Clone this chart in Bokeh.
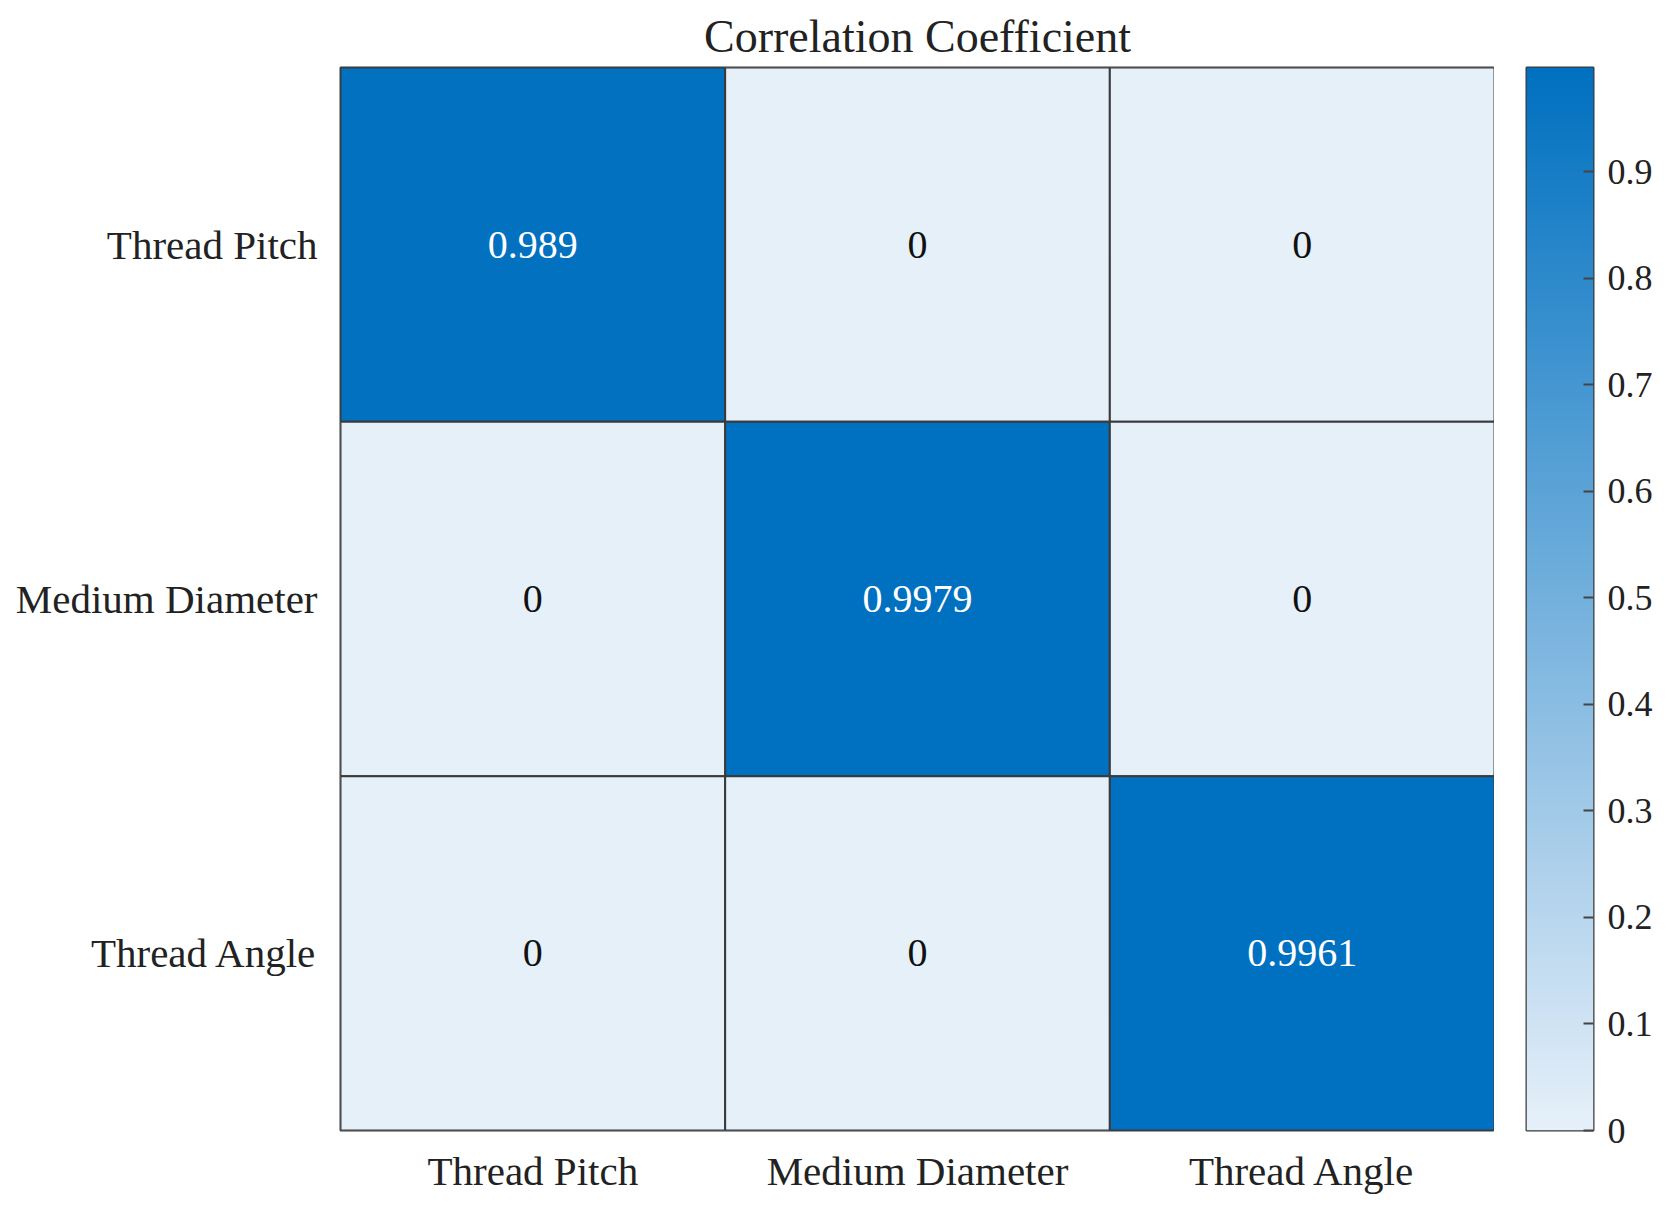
import numpy as np
from bokeh.plotting import figure
from bokeh.layouts import row
from bokeh.models import (ColumnDataSource, FactorRange, LinearColorMapper,
                          FixedTicker, Title, Range1d)
from bokeh.transform import transform
from bokeh.core.properties import value
from bokeh.embed import file_html
from bokeh.resources import INLINE

# ---- data ----
row_names = ["Thread Pitch", "Medium Diameter", "Thread Angle"]
col_names = ["Thread Pitch", "Medium Diameter", "Thread Angle"]
row_thread_pitch = [0.989, 0, 0]
row_medium_diameter = [0, 0.9979, 0]
row_thread_angle = [0, 0, 0.9961]
colorbar_ticks = [0, 0.1, 0.2, 0.3, 0.4, 0.5, 0.6, 0.7, 0.8, 0.9]
title_text = "Correlation Coefficient"

rows = [row_thread_pitch, row_medium_diameter, row_thread_angle]

xs, ys, vals, labels, tcolors = [], [], [], [], []
vmax = max(max(r) for r in rows)
for rname, r in zip(row_names, rows):
    for cname, v in zip(col_names, r):
        xs.append(cname)
        ys.append(rname)
        vals.append(v)
        labels.append(f"{v:g}")
        tcolors.append("white" if v > 0.5 * vmax else "#111111")

src = ColumnDataSource(dict(x=xs, y=ys, v=vals, label=labels, tc=tcolors))

# palette: light blue -> strong blue
lo = (230, 240, 249)
hi = (0, 112, 192)
N = 256
palette = []
for i in range(N):
    t = i / (N - 1)
    c = tuple(round(lo[k] + (hi[k] - lo[k]) * t) for k in range(3))
    palette.append("#%02x%02x%02x" % c)

mapper = LinearColorMapper(palette=palette, low=0, high=vmax)

FONT = "Liberation Serif"
TXT = "#222222"
EDGE = "#3a3a3a"

p = figure(x_range=FactorRange(*col_names), y_range=FactorRange(*reversed(row_names)),
           frame_width=1154, frame_height=1063,
           min_border_left=340, min_border_top=67, min_border_bottom=70, min_border_right=0,
           output_backend="svg", toolbar_location=None, tools="")

p.title = Title(text=title_text, align="center", vertical_align="top",
                text_font=FONT, text_font_size="46px",
                text_font_style="normal", text_color=TXT, standoff=8)

p.rect(x="x", y="y", width=1, height=1, source=src,
       fill_color=transform("v", mapper), line_color=EDGE, line_width=2)
p.text(x="x", y="y", text="label", source=src, text_color="tc",
       text_align="center", text_baseline="middle",
       text_font=value(FONT), text_font_size="40px")

p.outline_line_color = EDGE
p.outline_line_width = 2
p.grid.visible = False
for ax in (p.xaxis, p.yaxis):
    ax.axis_line_color = None
    ax.major_tick_line_color = None
    ax.minor_tick_line_color = None
    ax.major_label_text_font = FONT
    ax.major_label_text_font_size = "41px"
    ax.major_label_text_color = TXT
p.yaxis.major_label_standoff = 17
p.xaxis.major_label_standoff = 11

# ---- colour bar as its own thin figure ----
grad = np.linspace(0, vmax, 512).reshape(-1, 1)
cb = figure(x_range=Range1d(0, 1), y_range=Range1d(0, vmax),
            frame_width=67, frame_height=1063,
            min_border_left=32, min_border_top=67, min_border_bottom=70, min_border_right=10,
            y_axis_location="right", x_axis_location=None,
            output_backend="svg", toolbar_location=None, tools="")
cb.image(image=[grad], x=0, y=0, dw=1, dh=vmax, color_mapper=mapper)
cb.grid.visible = False
cb.outline_line_color = EDGE
cb.outline_line_width = 2
cb.yaxis.ticker = FixedTicker(ticks=colorbar_ticks)
cb.yaxis.major_label_overrides = {0: "0"}
cb.yaxis.axis_line_color = None
cb.yaxis.major_tick_in = 10
cb.yaxis.major_tick_out = 0
cb.yaxis.major_tick_line_color = "#444444"
cb.yaxis.major_tick_line_width = 2
cb.yaxis.minor_tick_line_color = None
cb.yaxis.major_label_standoff = 14
cb.yaxis.major_label_text_font = FONT
cb.yaxis.major_label_text_font_size = "36px"
cb.yaxis.major_label_text_color = TXT
cb.title = Title(text=" ", text_font_size="46px", standoff=8)

layout = row(p, cb)
open("out.html", "w").write(file_html(layout, INLINE))
